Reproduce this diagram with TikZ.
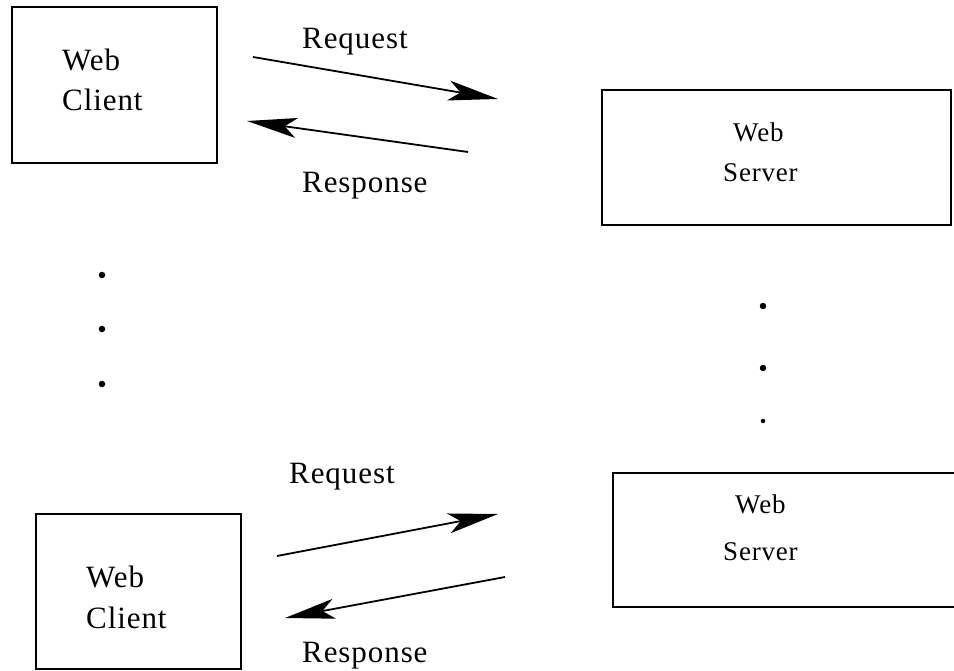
\documentclass[tikz,border=0pt]{standalone}
\usepackage{fontspec}
\setmainfont{Liberation Serif}[LetterSpace=3]
\usetikzlibrary{arrows.meta}
\begin{document}
\begin{tikzpicture}[x=1pt,y=-1pt,
  box/.style={draw, line width=2pt, inner sep=0pt},
  boxline/.style={line width=2pt},
  lbl/.style={font=\fontsize{31}{36}\selectfont, inner sep=0pt, anchor=base west},
  slbl/.style={font=\fontsize{27}{32}\selectfont, inner sep=0pt, anchor=base west},
  msg/.style={line width=1.8pt, -{Stealth[length=50pt,width=20pt,inset=12pt]}},
  bigdot/.style={circle, fill, inner sep=0pt, minimum size=6.5pt},
  smalldot/.style={circle, fill, inner sep=0pt, minimum size=4.5pt}]
\useasboundingbox (0,0) rectangle (954,671);

% top client
\node[box, minimum width=205pt, minimum height=156pt] (c1) at (114.5,85) {};
\node[lbl] (c1a) at (62,71) {Web};
\node[lbl] (c1b) at (62,111) {Client};

% top server
\node[box, minimum width=349pt, minimum height=135pt] (s1) at (776.5,157.5) {};
\node[slbl] (s1a) at (733,142) {Web};
\node[slbl] (s1b) at (723,182) {Server};

% top messages
\coordinate (r1s) at (253,57);
\coordinate (r1e) at (498,99);
\coordinate (p1s) at (468,152);
\coordinate (p1e) at (247,121);
\draw[msg] (r1s) -- (r1e);
\draw[msg] (p1s) -- (p1e);
\node[lbl] (rq1) at (302,49) {Request};
\node[lbl] (rs1) at (302,193) {Response};

% dots
\node[bigdot] (d1) at (102,275) {};
\node[bigdot] (d2) at (102,329) {};
\node[bigdot] (d3) at (102,384) {};
\node[bigdot] (d4) at (763,306) {};
\node[bigdot] (d5) at (763,368) {};
\node[smalldot] (d6) at (763,421) {};

% bottom client
\node[box, minimum width=205pt, minimum height=155pt] (c2) at (138.5,591.5) {};
\node[lbl] (c2a) at (86,587) {Web};
\node[lbl] (c2b) at (86,628) {Client};

% bottom server (right side beyond the page)
\node[inner sep=0pt, minimum width=341pt, minimum height=134pt] (s2) at (783.5,540) {};
\draw[boxline] (s2.north east) -- (s2.north west) -- (s2.south west) -- (s2.south east);
\node[slbl] (s2a) at (735,513) {Web};
\node[slbl] (s2b) at (723,560) {Server};

% bottom messages
\coordinate (r2s) at (277,556);
\coordinate (r2e) at (498,514);
\coordinate (p2s) at (505,577);
\coordinate (p2e) at (285,618);
\draw[msg] (r2s) -- (r2e);
\draw[msg] (p2s) -- (p2e);
\node[lbl] (rq2) at (289,483) {Request};
\node[lbl] (rs2) at (302,662) {Response};
\end{tikzpicture}
\end{document}
